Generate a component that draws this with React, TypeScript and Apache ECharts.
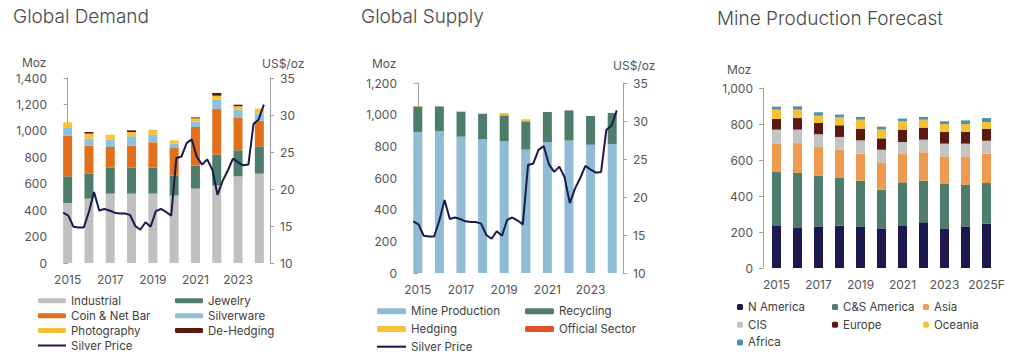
import React, { useEffect, useRef } from 'react';
import * as echarts from 'echarts';

const years = ['2015', '2016', '2017', '2018', '2019', '2020', '2021', '2022', '2023', '2024'];
const forecastYears = ['2015', '2016', '2017', '2018', '2019', '2020', '2021', '2022', '2023', '2024', '2025F'];

// Global Demand (Moz)
const industrial = [454, 487, 525, 525, 525, 510, 563, 588, 656, 676];
const jewelry = [202, 189, 196, 196, 196, 151, 174, 232, 197, 207];
const coinBar = [308, 212, 157, 167, 192, 209, 292, 345, 249, 194];
const silverware = [58, 53, 55, 71, 58, 33, 41, 71, 58, 55];
const photography = [43, 38, 38, 32, 38, 25, 25, 30, 26, 36];
const deHedging = [0, 12, 0, 13, 0, 0, 7, 21, 12, 0];

// Global Supply (Moz)
const mineProduction = [891, 897, 861, 846, 831, 779, 827, 836, 810, 815];
const recycling = [161, 155, 158, 160, 165, 179, 190, 191, 182, 196];
const hedging = [3, 0, 0, 0, 15, 13, 0, 0, 0, 0];
const officialSector = [0, 0, 0, 0, 0, 0, 0, 0, 0, 0];

// Quarterly silver price (US$/oz), 2015Q1 - 2024Q4
const silverPrice = [
  16.8, 16.4, 14.9, 14.8, 14.8, 16.9, 19.6, 17.1, 17.3, 17.1,
  16.8, 16.7, 16.7, 16.5, 15.0, 14.5, 15.5, 14.9, 17.0, 17.3,
  16.9, 16.4, 24.2, 24.4, 26.2, 26.7, 24.3, 23.3, 24.0, 22.6,
  19.2, 21.1, 22.5, 24.1, 23.6, 23.2, 23.3, 28.8, 29.4, 31.4,
];

// Mine Production Forecast (Moz)
const nAmerica = [237, 222, 231, 235, 231, 220, 237, 254, 220, 231, 246];
const csAmerica = [296, 306, 282, 265, 254, 215, 239, 231, 247, 232, 226];
const asia = [158, 166, 159, 157, 150, 152, 157, 158, 153, 157, 163];
const cis = [78, 75, 71, 71, 74, 70, 67, 70, 71, 71, 72];
const europe = [59, 64, 63, 65, 65, 63, 69, 67, 66, 66, 67];
const oceania = [52, 47, 40, 44, 50, 49, 46, 44, 43, 43, 37];
const africa = [16, 18, 19, 15, 15, 16, 15, 15, 15, 20, 22];

const FONT = 'Inter';
const C = {
  gray: '#c0c0c0',
  green: '#4f7d6c',
  orange: '#e0701b',
  lightBlue: '#90bfd8',
  yellow: '#f6c137',
  brown: '#5b1a0f',
  navy: '#1c1a4b',
  mineBlue: '#8fbcd4',
  red: '#e2502b',
  nAm: '#1c1850',
  asia: '#ef9a4e',
  cis: '#c4c4c4',
  africa: '#4a90b4',
};

const priceSpan = 0.21;
const priceData = silverPrice.map((v, k) => [
  -priceSpan + (k * (years.length - 1 + 2 * priceSpan)) / (silverPrice.length - 1),
  v,
]);

const fmt = (v: number) => v.toLocaleString('en-US');

function leftAxis(gridIndex: number, max: number, offset = 0) {
  return {
    type: 'value',
    gridIndex,
    min: 0,
    max,
    interval: 200,
    offset,
    axisLine: { show: true, lineStyle: { color: '#a0a0a0', width: 1 } },
    axisTick: { show: true, length: 4, lineStyle: { color: '#a0a0a0' } },
    axisLabel: { formatter: fmt, color: '#555', fontSize: 12, fontFamily: FONT, margin: 10 },
    splitLine: { show: false },
  };
}

function rightAxis(gridIndex: number) {
  return {
    type: 'value',
    gridIndex,
    position: 'right',
    min: 10,
    max: 35,
    interval: 5,
    axisLine: { show: true, lineStyle: { color: '#a0a0a0', width: 1 } },
    axisTick: { show: true, length: 4, lineStyle: { color: '#a0a0a0' } },
    axisLabel: { color: '#555', fontSize: 12, fontFamily: FONT, margin: 10 },
    splitLine: { show: false },
  };
}

function catAxis(gridIndex: number, data: string[]) {
  return {
    type: 'category',
    gridIndex,
    data,
    axisLine: { show: false },
    axisTick: { show: false },
    axisLabel: { interval: 1, color: '#555', fontSize: 12, fontFamily: FONT, margin: 10 },
  };
}

function hiddenX(gridIndex: number) {
  return { type: 'value', gridIndex, min: -0.5, max: years.length - 0.5, show: false };
}

function bar(name: string, data: number[], color: string, xAxisIndex: number, yAxisIndex: number, stack: string) {
  return {
    type: 'bar',
    name,
    data,
    stack,
    xAxisIndex,
    yAxisIndex,
    barWidth: 9,
    itemStyle: { color },
    emphasis: { disabled: true },
  };
}

function priceLine(xAxisIndex: number, yAxisIndex: number) {
  return {
    type: 'line',
    name: 'Silver Price',
    data: priceData,
    xAxisIndex,
    yAxisIndex,
    symbol: 'none',
    lineStyle: { color: C.navy, width: 2 },
    itemStyle: { color: C.navy },
    z: 5,
  };
}

const lineIcon = { name: 'Silver Price', icon: 'path://M0,0H28V2H0Z', itemStyle: { color: C.navy } };

function legend(left: number, top: number, data: any[], gap: number, w: number, h: number) {
  return {
    left,
    top,
    orient: 'vertical',
    padding: 0,
    itemGap: gap,
    itemWidth: w,
    itemHeight: h,
    selectedMode: false,
    data,
    textStyle: { color: '#404040', fontSize: 11.5, fontFamily: FONT },
  };
}

function label(text: string, x: number, y: number, size = 12, color = '#555', weight: any = 'normal') {
  return {
    type: 'text',
    x,
    y,
    style: { text, fill: color, fontSize: size, fontFamily: FONT, fontWeight: weight, verticalAlign: 'middle' },
  };
}

export default function App() {
  const ref = useRef<HTMLDivElement>(null);
  useEffect(() => {
    document.body.style.margin = '0';
    const chart = echarts.init(ref.current!, undefined, { renderer: 'svg' });
    const option: any = {
      animation: false,
      backgroundColor: '#ffffff',
      textStyle: { fontFamily: FONT },
      grid: [
        { left: 57, top: 78, width: 213, height: 185 },
        { left: 407, top: 83, width: 216, height: 190 },
        { left: 766, top: 88, width: 231, height: 180 },
      ],
      xAxis: [catAxis(0, years), hiddenX(0), catAxis(1, years), hiddenX(1), catAxis(2, forecastYears)],
      yAxis: [leftAxis(0, 1400), rightAxis(0), leftAxis(1, 1200), rightAxis(1), leftAxis(2, 1000, 3)],
      legend: [
        legend(38, 294.8, ['Industrial', 'Coin & Net Bar', 'Photography', lineIcon], 2.9, 28, 5),
        legend(175, 294.8, ['Jewelry', 'Silverware', 'De-Hedging'], 2.9, 28, 5),
        legend(377, 305.3, ['Mine Production', 'Hedging', lineIcon], 5.7, 29, 6),
        legend(525, 305.3, ['Recycling', 'Official Sector'], 5.7, 29, 6),
        legend(737, 301, ['N America', 'CIS', 'Africa'], 5.7, 6, 6),
        legend(832, 301, ['C&S America', 'Europe'], 5.7, 6, 6),
        legend(923, 301, ['Asia', 'Oceania'], 5.7, 6, 6),
      ],
      graphic: [
        label('Global Demand', 13, 16, 19, '#4a4a4a', 300),
        label('Global Supply', 361, 16, 19, '#4a4a4a', 300),
        label('Mine Production Forecast', 717, 18, 19, '#4a4a4a', 300),
        label('Moz', 22, 62),
        label('US$/oz', 262, 63),
        label('Moz', 372, 63),
        label('US$/oz', 613, 65),
        label('Moz', 727, 69),
      ],
      series: [
        bar('Industrial', industrial, C.gray, 0, 0, 'demand'),
        bar('Jewelry', jewelry, C.green, 0, 0, 'demand'),
        bar('Coin & Net Bar', coinBar, C.orange, 0, 0, 'demand'),
        bar('Silverware', silverware, C.lightBlue, 0, 0, 'demand'),
        bar('Photography', photography, C.yellow, 0, 0, 'demand'),
        bar('De-Hedging', deHedging, C.brown, 0, 0, 'demand'),
        priceLine(1, 1),
        bar('Mine Production', mineProduction, C.mineBlue, 2, 2, 'supply'),
        bar('Recycling', recycling, C.green, 2, 2, 'supply'),
        bar('Hedging', hedging, C.yellow, 2, 2, 'supply'),
        bar('Official Sector', officialSector, C.red, 2, 2, 'supply'),
        priceLine(3, 3),
        bar('N America', nAmerica, C.nAm, 4, 4, 'mine'),
        bar('C&S America', csAmerica, C.green, 4, 4, 'mine'),
        bar('Asia', asia, C.asia, 4, 4, 'mine'),
        bar('CIS', cis, C.cis, 4, 4, 'mine'),
        bar('Europe', europe, C.brown, 4, 4, 'mine'),
        bar('Oceania', oceania, C.yellow, 4, 4, 'mine'),
        bar('Africa', africa, C.africa, 4, 4, 'mine'),
      ],
    };
    chart.setOption(option);
    return () => chart.dispose();
  }, []);
  return <div ref={ref} style={{ width: 1024, height: 362 }} />;
}
